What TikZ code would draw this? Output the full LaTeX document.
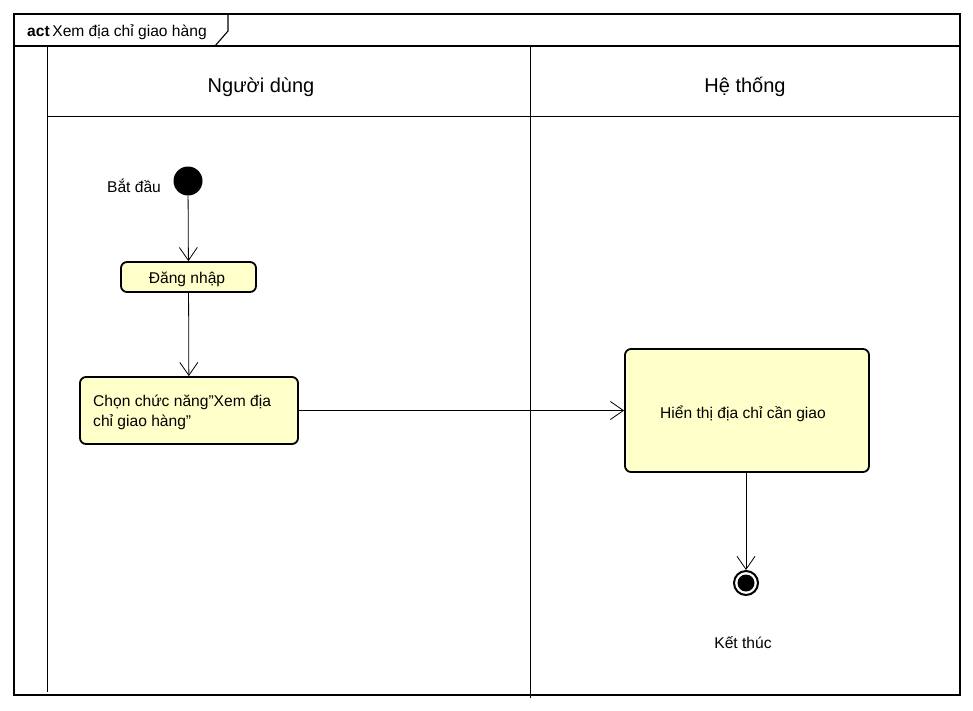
\documentclass[tikz,border=0pt]{standalone}
\usepackage{fontspec}
\setmainfont{Liberation Sans}
\usetikzlibrary{arrows.meta}
\definecolor{actfill}{RGB}{255,255,202}
\begin{document}
\begin{tikzpicture}[x=1pt,y=-1pt,
  frameline/.style={draw=black,line width=1.1pt},
  laneline/.style={draw=black,line width=0.9pt},
  action/.style={draw=black,line width=1.8pt,fill=actfill,rounded corners=6pt,inner sep=0pt,font=\fontsize{15.6}{20}\selectfont},
  flow/.style={draw=black,line width=0.8pt,-{Straight Barb[length=13pt,width=18pt,line width=0.8pt]}},
  lbl/.style={font=\fontsize{15.6}{20}\selectfont,inner sep=0pt},
  lanetitle/.style={font=\fontsize{20}{24}\selectfont,inner sep=0pt,anchor=base}]
\useasboundingbox (0,0) rectangle (973,710);
\fill[white] (0,0) rectangle (973,710);

% frame with name tab
\draw[frameline] (14,14) rectangle (960,695);
\draw[frameline] (14,46) -- (960,46);
\draw[frameline] (228,14) -- (228,31) -- (215,46);
\node[lbl,anchor=west] (tab) at (27,32.5) {\textbf{act}\,Xem địa chỉ giao hàng};

% swimlanes
\draw[laneline] (47,46) -- (47,692);
\draw[laneline] (47,116) -- (960,116);
\draw[laneline] (530,46) -- (530,698);
\node[lanetitle] (lane1) at (261,92.5) {Người dùng};
\node[lanetitle] (lane2) at (745,92.5) {Hệ thống};

% nodes
\node[circle,fill=black,minimum size=29pt,inner sep=0pt] (start) at (188,181) {};
\node[lbl] (startlbl) at (134,186) {Bắt đầu};
\node[action,minimum width=135pt,minimum height=30pt] (login) at (188.5,277) {};
\node[lbl] (logintxt) at (187,279) {Đăng nhập};
\node[action,minimum width=218pt,minimum height=67pt] (choose) at (189,410.5) {};
\node[lbl,anchor=north west,align=left] (choosetxt) at (93,395) {Chọn chức năng"Xem địa\\chỉ giao hàng"};
\node[action,minimum width=244pt,minimum height=123pt] (show) at (747,410.5) {};
\node[lbl] (showtxt) at (743,413.5) {Hiển thị địa chỉ cần giao};
\node[circle,draw=black,line width=2pt,fill=white,minimum size=24pt,inner sep=0pt] (stop) at (746,583) {};
\fill[black] (stop.center) circle (8.5pt);
\node[lbl] (stoplbl) at (743,642.5) {Kết thúc};

% control flows
\draw[flow] (start) -- (login);
\draw[flow] (login) -- (choose);
\draw[flow] (choose.east) -- (show.west);
\draw[flow] (show.south -| stop) -- (stop);
\end{tikzpicture}
\end{document}
